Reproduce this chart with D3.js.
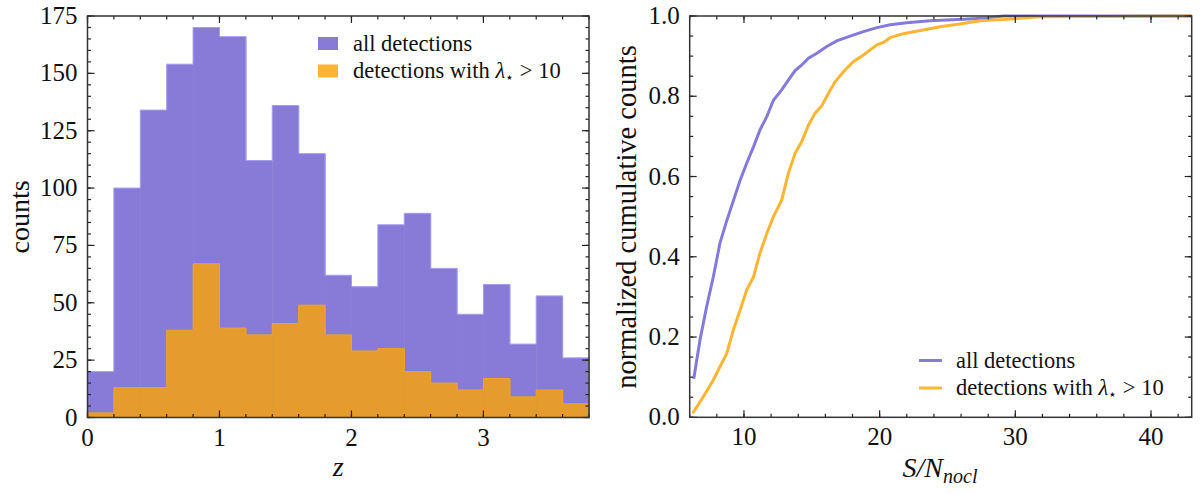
<!DOCTYPE html>
<html>
<head>
<meta charset="utf-8">
<script src="https://cdn.jsdelivr.net/npm/d3@7"></script>
<style>
  body { margin: 0; background: #fff; }
  svg text { font-family: "Liberation Serif", "DejaVu Serif", serif; fill: #111; }
</style>
</head>
<body>
<div id="chart"></div>
<script>
// left panel: redshift histogram, bin left edges (width 0.2)
const zBinStart = [0, 0.2, 0.4, 0.6, 0.8, 1.0, 1.2, 1.4, 1.6, 1.8, 2.0, 2.2, 2.4, 2.6, 2.8, 3.0, 3.2, 3.4, 3.6];
const zBinWidth = 0.2;
const countsAll = [20, 100, 134, 154, 170, 166, 112, 136, 115, 62, 57, 84, 89, 65, 45, 58, 32, 53, 26];
const countsLambda = [2, 13, 13, 38, 67, 39, 36, 41, 49, 36, 29, 30, 20, 15, 12, 17, 9, 12, 6];
const zTicks = [0, 1, 2, 3];
const countTicks = [0, 25, 50, 75, 100, 125, 150, 175];

// right panel: normalized cumulative counts vs S/N
const snAll = [6.3, 6.76, 7.25, 7.74, 8.23, 8.73, 9.22, 9.71, 10.2, 10.7, 11.18, 11.68, 12.17, 12.78, 13.27, 13.77, 14.26, 14.75, 15.37, 16.1, 16.84, 17.82, 18.8, 19.8, 20.77, 22.0, 23.7, 26.2, 27.9, 29.1, 43];
const cumAll = [0.096, 0.193, 0.276, 0.35, 0.434, 0.49, 0.54, 0.59, 0.633, 0.674, 0.716, 0.749, 0.79, 0.816, 0.84, 0.864, 0.878, 0.895, 0.907, 0.924, 0.938, 0.95, 0.961, 0.971, 0.978, 0.983, 0.988, 0.992, 0.995, 1.0, 1.0];
const snLambda = [6.22, 7.0, 7.74, 8.23, 8.73, 9.22, 9.71, 10.2, 10.7, 11.18, 11.68, 12.17, 12.78, 13.27, 13.77, 14.26, 14.75, 15.24, 15.73, 16.22, 16.71, 17.33, 18.06, 18.8, 19.8, 20.28, 20.77, 21.75, 23.2, 24.46, 25.9, 27.4, 29.1, 30.6, 31.8, 43];
const cumLambda = [0.01, 0.051, 0.093, 0.126, 0.159, 0.218, 0.267, 0.317, 0.35, 0.409, 0.458, 0.5, 0.541, 0.608, 0.658, 0.687, 0.728, 0.758, 0.776, 0.807, 0.836, 0.861, 0.886, 0.903, 0.928, 0.934, 0.946, 0.956, 0.965, 0.973, 0.98, 0.988, 0.991, 0.995, 0.998, 1.0];
const snTicks = [10, 20, 30, 40];
const cumTicks = [0, 0.2, 0.4, 0.6, 0.8, 1.0];

const purple = '#877bd7';
const orangeBar = '#e59c2c';
const orangeLight = '#ffb533';
const purpleLine = '#8479dc';

const svg = d3.select('#chart').append('svg')
    .attr('width', 1200)
    .attr('height', 494);

// draw inward ticks on all four sides of a panel
function frame(g, x, y, xMajor, xMinor, yMajor, yMinor, fmtY) {
    const [x0, x1] = x.range();
    const [y0, y1] = y.range();
    const bigT = 7, smallT = 3.5;

    const tickLine = (x1_, y1_, x2_, y2_) => g.append('line')
        .attr('x1', x1_).attr('y1', y1_).attr('x2', x2_).attr('y2', y2_)
        .attr('stroke', '#222').attr('stroke-width', 1.2);

    xMinor.forEach(v => {
        tickLine(x(v), y0, x(v), y0 - smallT);
        tickLine(x(v), y1, x(v), y1 + smallT);
    });
    xMajor.forEach(v => {
        tickLine(x(v), y0, x(v), y0 - bigT);
        tickLine(x(v), y1, x(v), y1 + bigT);
        g.append('text')
            .attr('x', x(v)).attr('y', y0 + 28)
            .attr('text-anchor', 'middle')
            .attr('font-size', 25)
            .text(v);
    });
    yMinor.forEach(v => {
        tickLine(x0, y(v), x0 + smallT, y(v));
        tickLine(x1, y(v), x1 - smallT, y(v));
    });
    yMajor.forEach(v => {
        tickLine(x0, y(v), x0 + bigT, y(v));
        tickLine(x1, y(v), x1 - bigT, y(v));
        g.append('text')
            .attr('x', x0 - 10).attr('y', y(v) + 8)
            .attr('text-anchor', 'end')
            .attr('font-size', 25)
            .text(fmtY(v));
    });

    g.append('rect')
        .attr('x', x0).attr('y', y1)
        .attr('width', x1 - x0).attr('height', y0 - y1)
        .attr('fill', 'none')
        .attr('stroke', '#333')
        .attr('stroke-width', 1.5);
}

function lambdaLabel(t) {
    t.append('tspan').text('detections with ');
    t.append('tspan').attr('font-style', 'italic').text('λ');
    t.append('tspan').attr('font-size', 14).attr('dy', 4).text('⋆');
    t.append('tspan').attr('dy', -4).text(' > 10');
}

// histogram as filled rects plus a light outline of the whole step shape
function histogram(g, counts, fill, edge) {
    g.append('g').selectAll('rect')
        .data(zBinStart)
        .enter()
        .append('rect')
        .attr('x', d => xz(d))
        .attr('y', (d, i) => yc(counts[i]))
        .attr('width', d => xz(d + zBinWidth) - xz(d) + 0.5)
        .attr('height', (d, i) => yc(0) - yc(counts[i]))
        .attr('fill', fill);

    const pts = [[zBinStart[0], 0]];
    zBinStart.forEach((d, i) => {
        pts.push([d, counts[i]]);
        pts.push([d + zBinWidth, counts[i]]);
    });
    pts.push([zBinStart[zBinStart.length - 1] + zBinWidth, 0]);
    g.append('path')
        .datum(pts)
        .attr('d', d3.line().x(p => xz(p[0])).y(p => yc(p[1])))
        .attr('fill', 'none')
        .attr('stroke', edge)
        .attr('stroke-width', 1);
}

// ---------- left panel ----------
const xz = d3.scaleLinear().domain([0, 3.8]).range([87.5, 589]);
const yc = d3.scaleLinear().domain([0, 175]).range([417.5, 16]);
const left = svg.append('g');

histogram(left, countsAll, purple, '#a59cef');
histogram(left, countsLambda, orangeBar, '#efa22e');

frame(left, xz, yc, zTicks, d3.range(0, 3.81, 0.2), countTicks, d3.range(0, 176, 5), d => d);

left.append('text')
    .attr('transform', 'translate(29,217) rotate(-90)')
    .attr('text-anchor', 'middle')
    .attr('font-size', 28)
    .text('counts');
left.append('text')
    .attr('x', xz(1.9)).attr('y', 476)
    .attr('text-anchor', 'middle')
    .attr('font-size', 28)
    .attr('font-style', 'italic')
    .text('z');

// legend (patches)
const legL = left.append('g');
legL.append('rect').attr('x', 318).attr('y', 37).attr('width', 20).attr('height', 13).attr('fill', purple);
legL.append('rect').attr('x', 318).attr('y', 64.5).attr('width', 20).attr('height', 13).attr('fill', orangeLight);
legL.append('text').attr('x', 353).attr('y', 51).attr('font-size', 22.5).text('all detections');
lambdaLabel(legL.append('text').attr('x', 353).attr('y', 78).attr('font-size', 22.5));

// ---------- right panel ----------
const xs = d3.scaleLinear().domain([6, 43]).range([689.7, 1191.7]);
const yn = d3.scaleLinear().domain([0, 1]).range([417.3, 16]);
const right = svg.append('g');

const clip = svg.append('clipPath').attr('id', 'rclip');
clip.append('rect').attr('x', 689.7).attr('y', 14).attr('width', 502).attr('height', 405);

const line = d3.line()
    .x(d => xs(d[0]))
    .y(d => yn(d[1]));

right.append('path')
    .datum(snAll.map((v, i) => [v, cumAll[i]]))
    .attr('d', line)
    .attr('clip-path', 'url(#rclip)')
    .attr('fill', 'none')
    .attr('stroke', purpleLine)
    .attr('stroke-width', 3);

right.append('path')
    .datum(snLambda.map((v, i) => [v, cumLambda[i]]))
    .attr('d', line)
    .attr('clip-path', 'url(#rclip)')
    .attr('fill', 'none')
    .attr('stroke', orangeLight)
    .attr('stroke-width', 3);

frame(right, xs, yn, snTicks, d3.range(6, 43.1, 2), cumTicks, d3.range(0, 1.001, 0.05), d => d.toFixed(1));

right.append('text')
    .attr('transform', 'translate(636,217) rotate(-90)')
    .attr('text-anchor', 'middle')
    .attr('font-size', 28.5)
    .text('normalized cumulative counts');

const xl = right.append('text')
    .attr('x', 940).attr('y', 477)
    .attr('text-anchor', 'middle')
    .attr('font-size', 28)
    .attr('font-style', 'italic');
xl.append('tspan').text('S/N');
xl.append('tspan').attr('font-size', 20).attr('dy', 6).text('nocl');

const legR = right.append('g');
legR.append('line').attr('x1', 919).attr('x2', 942).attr('y1', 360.5).attr('y2', 360.5)
    .attr('stroke', purpleLine).attr('stroke-width', 3);
legR.append('line').attr('x1', 919).attr('x2', 942).attr('y1', 388).attr('y2', 388)
    .attr('stroke', orangeLight).attr('stroke-width', 3);
legR.append('text').attr('x', 956).attr('y', 368).attr('font-size', 22.5).text('all detections');
lambdaLabel(legR.append('text').attr('x', 956).attr('y', 395).attr('font-size', 22.5));
</script>
</body>
</html>
